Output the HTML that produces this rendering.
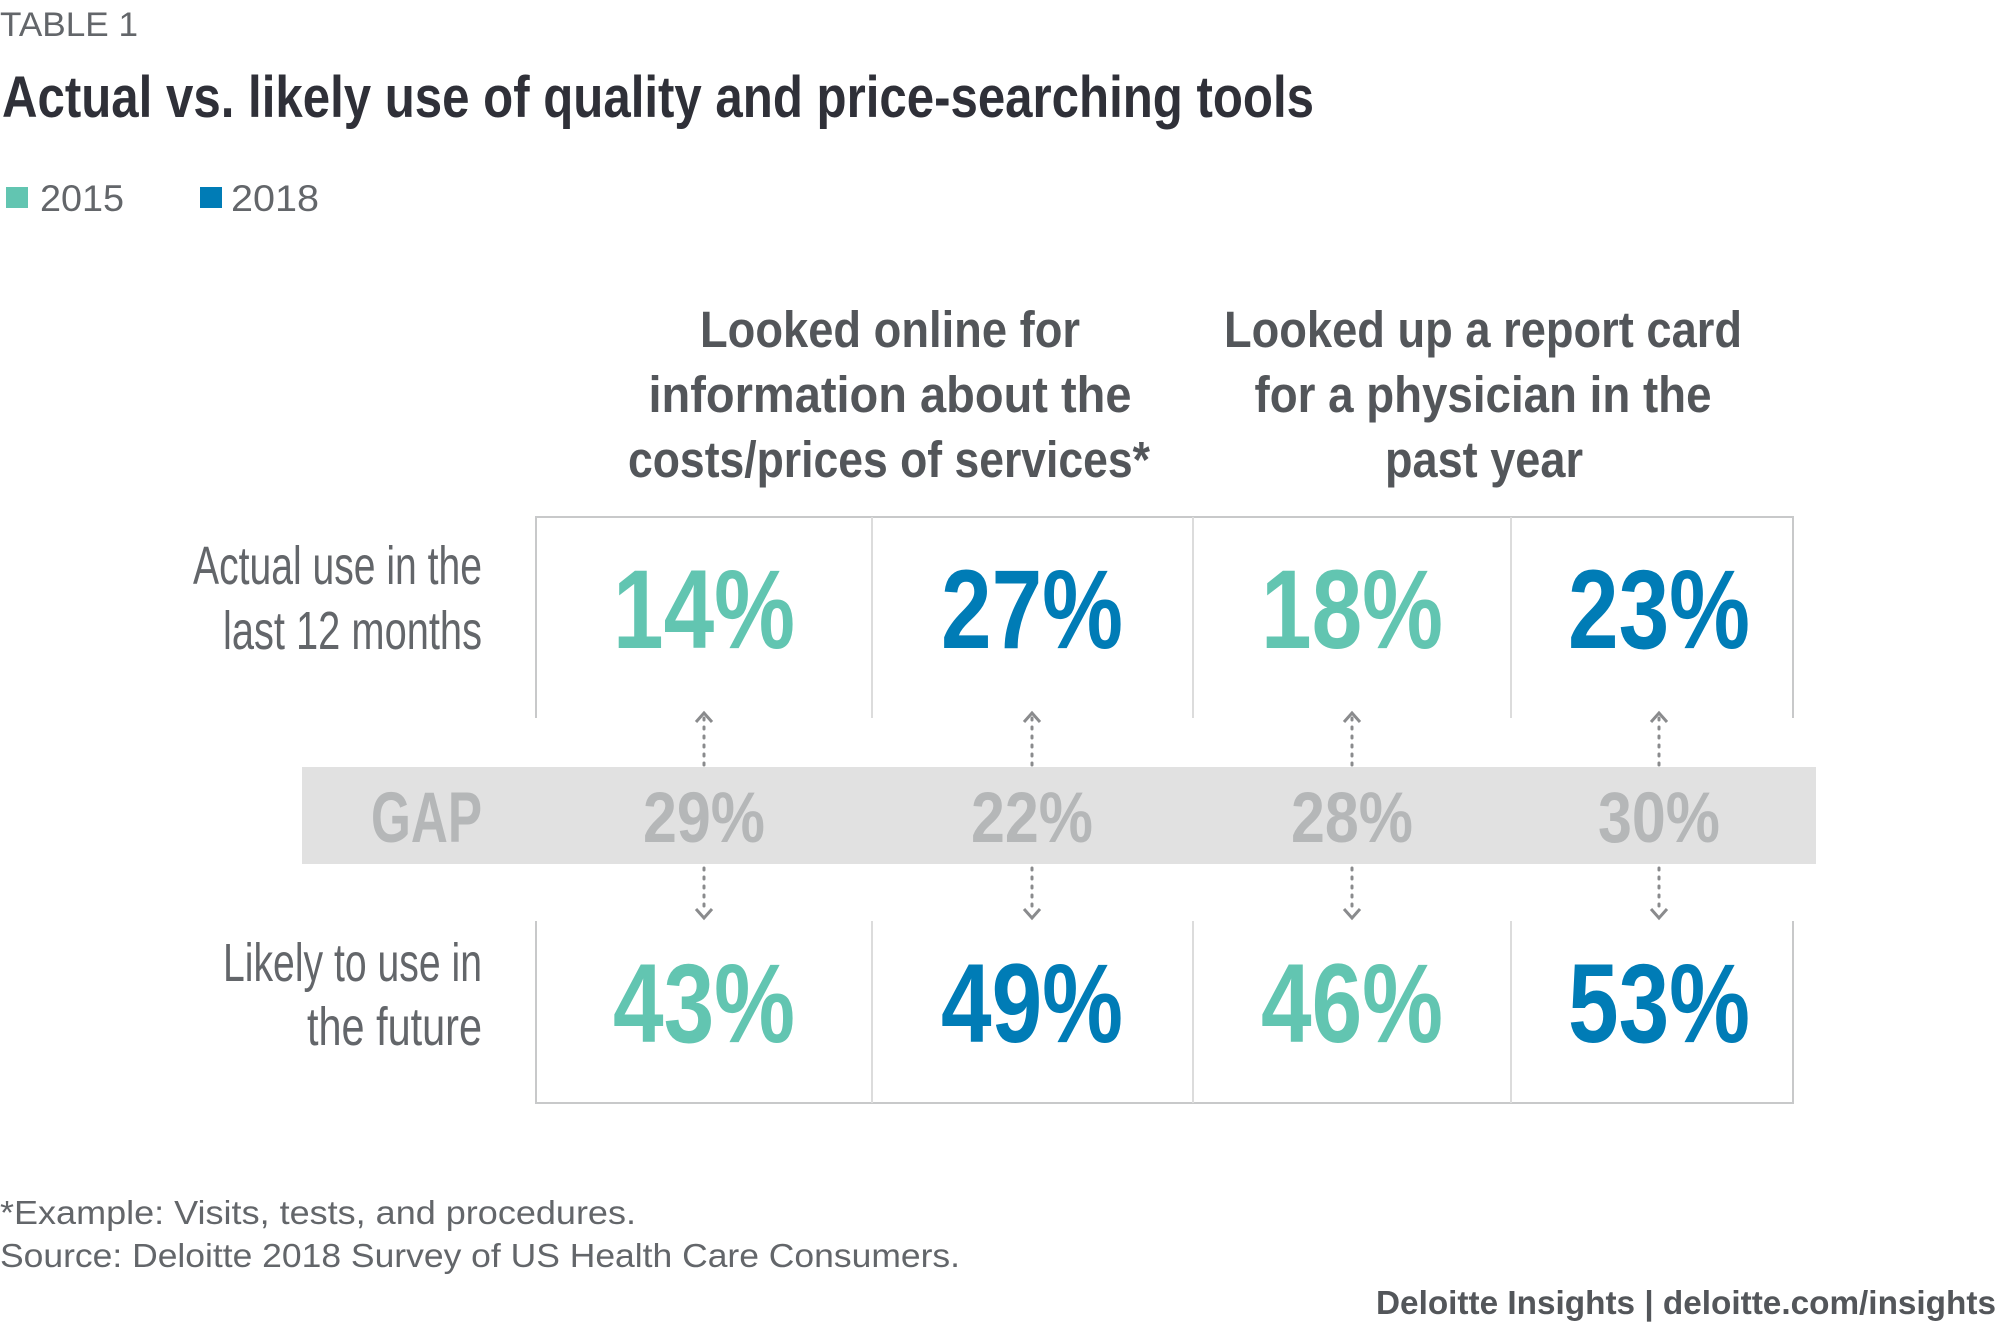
<!DOCTYPE html>
<html><head><meta charset="utf-8"><style>
html,body{margin:0;padding:0;background:#fff}
svg{display:block}
text{font-family:"Liberation Sans",sans-serif}
</style></head><body>
<svg id="chart" width="2000" height="1333" viewBox="0 0 2000 1333" xmlns="http://www.w3.org/2000/svg">
<text x="0" y="36" font-size="34" fill="#63666a" textLength="138" lengthAdjust="spacingAndGlyphs">TABLE 1</text>
<text x="2" y="117" font-size="58" font-weight="bold" fill="#2f3038" textLength="1312" lengthAdjust="spacingAndGlyphs">Actual vs. likely use of quality and price-searching tools</text>
<g>
<rect x="6" y="187" width="22" height="21" fill="#62c5b1"/>
<text x="40" y="211" font-size="37" fill="#63666a" textLength="84" lengthAdjust="spacingAndGlyphs">2015</text>
<rect x="200" y="187" width="22" height="21" fill="#007cb6"/>
<text x="231" y="211" font-size="37" fill="#63666a" textLength="88" lengthAdjust="spacingAndGlyphs">2018</text>
</g>
<g font-size="51" font-weight="bold" fill="#53565a" text-anchor="middle">
<text x="890" y="347" textLength="380" lengthAdjust="spacingAndGlyphs">Looked online for</text>
<text x="890" y="412" textLength="483" lengthAdjust="spacingAndGlyphs">information about the</text>
<text x="889" y="477" textLength="522" lengthAdjust="spacingAndGlyphs">costs/prices of services*</text>
</g>
<g font-size="51" font-weight="bold" fill="#53565a" text-anchor="middle">
<text x="1483" y="347" textLength="518" lengthAdjust="spacingAndGlyphs">Looked up a report card</text>
<text x="1483" y="412" textLength="457" lengthAdjust="spacingAndGlyphs">for a physician in the</text>
<text x="1484" y="477" textLength="198" lengthAdjust="spacingAndGlyphs">past year</text>
</g>
<g stroke="#c8c9ca" stroke-width="2" fill="none">
<path d="M536 718 V517 H1793 V718"/>
<path d="M872 517 V718 M1193 517 V718 M1511 517 V718" stroke="#dcdcdc"/>
<path d="M536 921 V1103 H1793 V921"/>
<path d="M872 921 V1103 M1193 921 V1103 M1511 921 V1103" stroke="#dcdcdc"/>
</g>
<rect x="302" y="767" width="1514" height="97" fill="#e1e1e1"/>
<text x="482" y="842" font-size="71" font-weight="bold" fill="#b5b7b8" text-anchor="end" textLength="111" lengthAdjust="spacingAndGlyphs">GAP</text>
<g font-size="54" fill="#63666a" text-anchor="end">
<text x="482" y="584" textLength="289" lengthAdjust="spacingAndGlyphs">Actual use in the</text>
<text x="482" y="649" textLength="259" lengthAdjust="spacingAndGlyphs">last 12 months</text>
</g>
<g font-size="54" fill="#63666a" text-anchor="end">
<text x="482" y="981" textLength="259" lengthAdjust="spacingAndGlyphs">Likely to use in</text>
<text x="482" y="1045" textLength="175" lengthAdjust="spacingAndGlyphs">the future</text>
</g>
<text x="0" y="1224" font-size="33" fill="#63666a" textLength="636" lengthAdjust="spacingAndGlyphs">*Example: Visits, tests, and procedures.</text>
<text x="0" y="1267" font-size="33" fill="#63666a" textLength="960" lengthAdjust="spacingAndGlyphs">Source: Deloitte 2018 Survey of US Health Care Consumers.</text>
<text x="1996" y="1314" font-size="33" font-weight="bold" fill="#53565a" text-anchor="end" textLength="620" lengthAdjust="spacingAndGlyphs">Deloitte Insights | deloitte.com/insights</text>
<g id="marks"></g>
</svg>
<script>
const categories = ["Costs 2015", "Costs 2018", "Report card 2015", "Report card 2018"];
const years = ["2015", "2018", "2015", "2018"];
const actualUse = [14, 27, 18, 23];
const likelyUse = [43, 49, 46, 53];
const gapValues = [29, 22, 28, 30];

const NS = "http://www.w3.org/2000/svg";
const g = document.getElementById("marks");
const colX = i => [704, 1032, 1352, 1659][i];
const yearColor = y => y === "2015" ? "#62c5b1" : "#007cb6";
function txt(x, y, s, size, fill, w) {
  const t = document.createElementNS(NS, "text");
  t.setAttribute("x", x); t.setAttribute("y", y);
  t.setAttribute("font-size", size); t.setAttribute("font-weight", "bold");
  t.setAttribute("fill", fill); t.setAttribute("text-anchor", "middle");
  t.setAttribute("textLength", w); t.setAttribute("lengthAdjust", "spacingAndGlyphs");
  t.textContent = s; g.appendChild(t); return t;
}
function line(x1, y1, x2, y2, dash) {
  const l = document.createElementNS(NS, "path");
  l.setAttribute("d", `M${x1} ${y1} L${x2} ${y2}`);
  l.setAttribute("stroke", "#8a8b8d"); l.setAttribute("stroke-width", "3");
  l.setAttribute("fill", "none");
  if (dash) { l.setAttribute("stroke-dasharray", "2 7"); l.setAttribute("stroke-linecap", "round"); }
  g.appendChild(l); return l;
}
categories.forEach((c, i) => {
  const x = colX(i);
  const a = txt(x, 648, actualUse[i] + "%", 112, yearColor(years[i]), 182);
  
  
  const b = txt(x, 1042, likelyUse[i] + "%", 112, yearColor(years[i]), 182);
  
  
  const gp = txt(x, 842, gapValues[i] + "%", 71, "#b5b7b8", 122);
  
  
  const up = line(x, 718, x, 765, true);
  
  
  const uh = line(x - 8, 722, x, 713, false);
  uh.setAttribute("d", `M${x-8} 722 L${x} 713 L${x+8} 722`);
  
  
  const dn = line(x, 868, x, 913, true);
  
  
  const dh = line(x - 8, 909, x, 918, false);
  dh.setAttribute("d", `M${x-8} 909 L${x} 918 L${x+8} 909`);
  
  
});
</script>
</body></html>
